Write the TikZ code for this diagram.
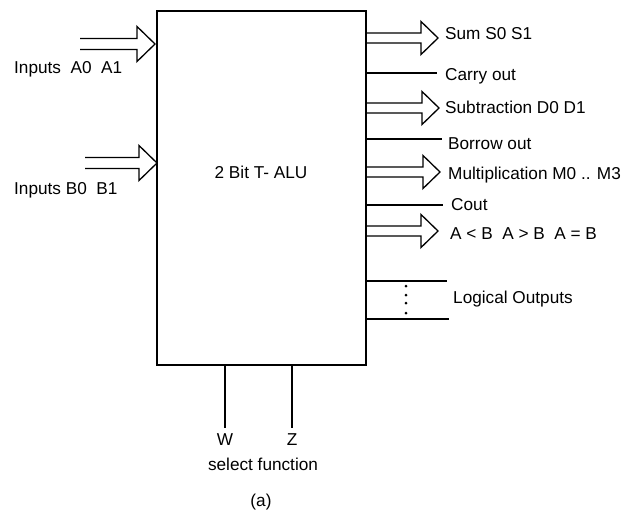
\documentclass[tikz,border=0pt]{standalone}
\usepackage{fontspec}
\setmainfont{Liberation Sans}
\usetikzlibrary{calc}
\tikzset{
  wire/.style={line width=1.3pt, line join=miter},
  lbl/.style={anchor=base west, inner sep=0pt, font=\fontsize{17.2}{19}\selectfont},
  clbl/.style={anchor=base, inner sep=0pt, font=\fontsize{17.2}{19}\selectfont},
  dotmark/.style={fill, circle, inner sep=0pt, minimum size=3pt}
}
\newcommand{\busR}[1]{%
  \draw[wire] ($(alu.east|-#1)+(0,-5)$) -- ($(#1)+(-17,-5)$) -- ++(0,-11.5)
    -- (#1) -- ($(#1)+(-17,16.5)$) -- ++(0,-11.5) -- ($(alu.east|-#1)+(0,5)$);}
\newcommand{\busIn}[2]{%
  \draw[wire] (#1) ++(0,-5.5) -- ($(#2)+(-18,-5.5)$) -- ++(0,-12)
    -- (#2) -- ($(#2)+(-18,17.5)$) -- ++(0,-12) -- ($(#1)+(0,5.5)$);}
\begin{document}
\begin{tikzpicture}[x=1pt,y=-1pt]
\useasboundingbox (0,0) rectangle (628,512);
\fill[white] (0,0) rectangle (628,512);
% main box
\node[draw, line width=1.5pt, minimum width=209pt, minimum height=354pt, inner sep=0pt] (alu) at (261.5,188) {};
\node[clbl] (title) at (261,178) {2 Bit T- ALU};
% inputs
\coordinate (ainS) at (80,44);
\coordinate (ainT) at (155,44);
\coordinate (binS) at (85,163);
\coordinate (binT) at (157,163);
\busIn{ainS}{ainT}
\busIn{binS}{binT}
\node[lbl] (ta) at (14,73) {Inputs\ \ A0\ \ A1};
\node[lbl] (tb) at (14,194) {Inputs B0\ \ B1};
% right outputs
\coordinate (sumT) at (438,38);
\coordinate (subT) at (439,108);
\coordinate (mulT) at (440,172);
\coordinate (cmpT) at (438,231);
\busR{sumT}
\busR{subT}
\busR{mulT}
\busR{cmpT}
\coordinate (carE) at (437,73);
\coordinate (borE) at (442,139);
\coordinate (couE) at (443,205);
\draw[wire] (alu.east|-carE) -- (carE);
\draw[wire] (alu.east|-borE) -- (borE);
\draw[wire] (alu.east|-couE) -- (couE);
\coordinate (lo1) at (447,281);
\coordinate (lo2) at (449,319);
\draw[wire] (alu.east|-lo1) -- (lo1);
\draw[wire] (alu.east|-lo2) -- (lo2);
\foreach \yy in {286,295,303,313} \node[dotmark] at (406,\yy) {};
\node[lbl] (tsum) at (445,39) {Sum S0 S1};
\node[lbl] (tcar) at (445,80) {Carry out};
\node[lbl] (tsub) at (445,113) {Subtraction D0 D1};
\node[lbl] (tbor) at (448,149) {Borrow out};
\node[lbl] (tmul) at (448,179) {Multiplication M0 .. M3};
\node[lbl] (tcou) at (451,210) {Cout};
\node[lbl] (tcmp) at (450,239) {A < B\ \ A > B\ \ A = B};
\node[lbl] (tlog) at (453,303) {Logical Outputs};
% select lines
\coordinate (wE) at (225,428);
\coordinate (zE) at (292,428);
\draw[wire] (alu.south-|wE) -- (wE);
\draw[wire] (alu.south-|zE) -- (zE);
\node[clbl] (tw) at (225,445) {W};
\node[clbl] (tz) at (292,445) {Z};
\node[clbl] (tsel) at (263,470) {select function};
\node[clbl] (tcap) at (261,506) {(a)};
\end{tikzpicture}
\end{document}
